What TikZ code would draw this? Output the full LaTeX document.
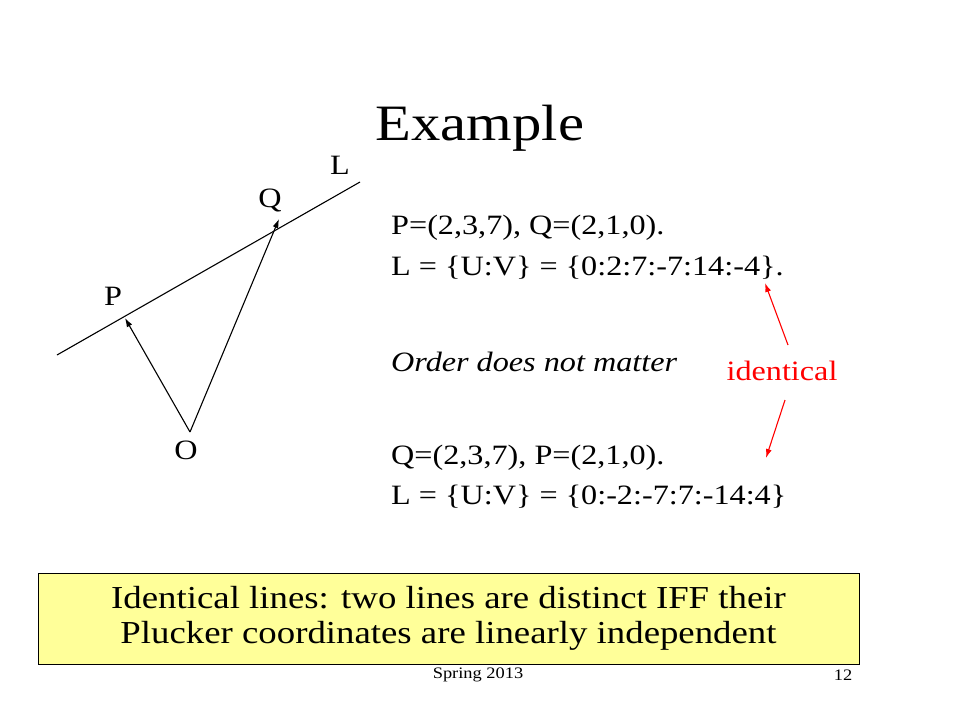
\documentclass[tikz,border=0pt]{standalone}
\usepackage{fontspec}
\setmainfont{Liberation Serif}[FakeStretch=1.15]
\usetikzlibrary{positioning,arrows.meta}
\definecolor{boxyellow}{HTML}{FFFF99}
\begin{document}
\begin{tikzpicture}[x=1pt,y=-1pt,
    txt/.style={anchor=west, inner sep=0pt, font=\fontsize{28}{30}\selectfont},
    lbl/.style={inner sep=0pt, font=\fontsize{28}{30}\selectfont},
    arrow/.style={-{Latex[length=9pt,width=6pt]}, line width=1.1pt},
    redarrow/.style={arrow, red}
]
\useasboundingbox (0,0) rectangle (960,720);

% Title
\node[inner sep=0pt, font=\fontsize{51}{56}\selectfont] (title) at (480,128) {Example};

% Line L and vectors
\coordinate (l0) at (57,355);
\coordinate (l1) at (360,182);
\draw[line width=1.1pt] (l0) -- (l1);
\coordinate (o) at (190,432);
\coordinate (p) at (125,318);
\coordinate (q) at (279,219);
\draw[arrow] (o) -- (p);
\draw[arrow] (o) -- (q);
\node[lbl] (lL) at (340,165) {L};
\node[lbl] (lQ) at (270,200) {Q};
\node[lbl] (lP) at (113,296) {P};
\node[lbl] (lO) at (186,450) {O};

% Text
\node[txt] (t1) at (391,228) {P=(2,3,7), Q=(2,1,0).};
\node[txt] (t2) at (391,268) {L = \{U:V\} = \{0:2:7:-7:14:-4\}.};
\node[txt] (t3) at (391,362) {\itshape Order does not matter};
\node[txt] (t4) at (391,458) {Q=(2,3,7), P=(2,1,0).};
\node[txt] (t5) at (391,497) {L = \{U:V\} = \{0:-2:-7:7:-14:4\}};

% identical
\node[lbl, text=red] (ident) at (782,371) {identical};
\coordinate (a1) at (765,283);
\coordinate (a2) at (766,458);
\draw[redarrow] (788,345) -- (a1);
\draw[redarrow] (785,400) -- (a2);

% Bottom box
\node[draw, line width=1pt, fill=boxyellow, minimum width=821, minimum height=91, inner sep=0pt,
      align=center, font=\fontsize{32}{35}\selectfont] (box) at (448.5,618.5)
      {Identical lines: two lines are distinct IFF their\\Plucker coordinates are linearly independent};

% Footer
\node[inner sep=0pt, font=\fontsize{16}{18}\selectfont] (foot) at (478,675) {Spring 2013};
\node[inner sep=0pt, font=\fontsize{16}{18}\selectfont] (num) at (843,675) {12};
\end{tikzpicture}
\end{document}
